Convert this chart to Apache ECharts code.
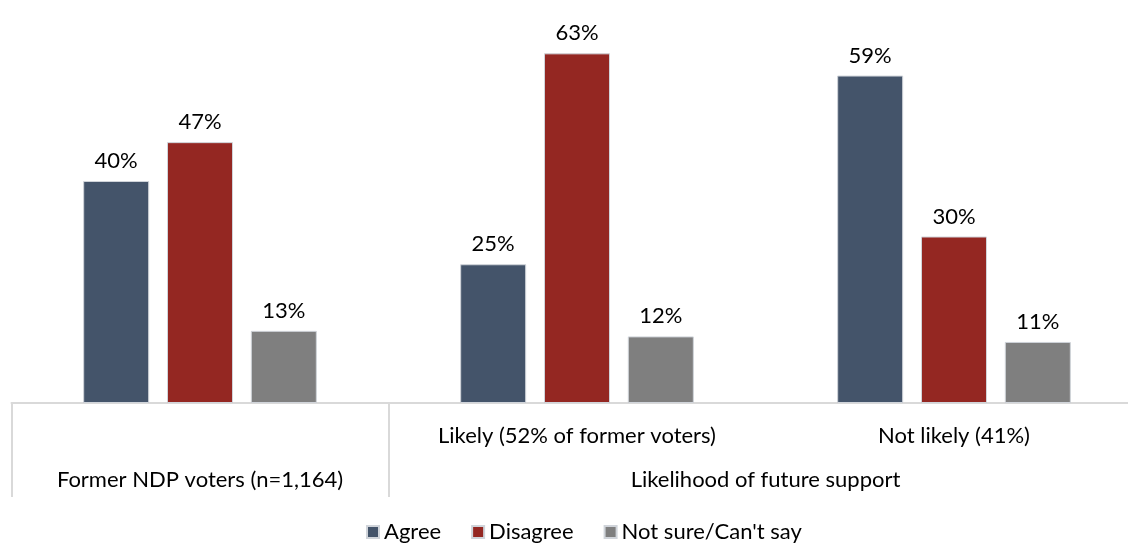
<!DOCTYPE html>
<html>
<head>
<meta charset="utf-8">
<script src="https://cdn.jsdelivr.net/npm/echarts@6/dist/echarts.min.js"></script>
<style>html,body{margin:0;padding:0;background:#fff}#c{width:1128px;height:543px}</style>
</head>
<body>
<div id="c"></div>
<script>
const categories = ["", "Likely (52% of former voters)", "Not likely (41%)"];
const groupLabels = ["", "Former NDP voters (n=1,164)", "", "", "Likelihood of future support", "", ""];
const seriesNames = ["Agree", "Disagree", "Not sure/Can't say"];
const agree = [40, 25, 59];
const disagree = [47, 63, 30];
const notSure = [13, 12, 11];
const colors = ["#44546A", "#942722", "#7F7F7F"];

const FONT = "Lato";
const FS = 22;
const TXT = "#000";
const chart = echarts.init(document.getElementById('c'), null, {renderer: 'canvas'});
const mk = (name, data, color) => ({
  name, type: 'bar', data, barWidth: 66, barGap: '27%',
  itemStyle: {color, borderColor: '#d0d4da', borderWidth: 1},
  label: {show: true, position: 'top', distance: 9, formatter: '{c}%', color: TXT, fontFamily: FONT, fontSize: FS}
});
chart.setOption({
  animation: false,
  grid: {left: 11.5, width: 1131, top: 14.5, bottom: 140, containLabel: false, outerBoundsMode: 'none'},
  legend: {
    bottom: -5, left: 361, itemWidth: 12, itemHeight: 12, itemGap: 30, icon: 'rect',
    textStyle: {fontFamily: FONT, fontSize: FS, color: TXT},
    data: seriesNames
  },
  xAxis: [
    {type: 'category', data: categories, axisTick: {show: false},
     axisLine: {lineStyle: {color: '#d9d9d9', width: 2}},
     axisLabel: {interval: 0, margin: 22, color: TXT, fontFamily: FONT, fontSize: FS}},
    {type: 'category', data: groupLabels, boundaryGap: false, position: 'bottom',
     axisLine: {show: false},
     axisTick: {show: true, length: 94, interval: (i) => i === 0 || i === 2 || i === 6, lineStyle: {color: '#d9d9d9', width: 2}},
     axisLabel: {interval: 0, margin: 66, color: TXT, fontFamily: FONT, fontSize: FS}}
  ],
  yAxis: {type: 'value', min: 0, max: 70, show: false},
  series: [mk(seriesNames[0], agree, colors[0]), mk(seriesNames[1], disagree, colors[1]), mk(seriesNames[2], notSure, colors[2])]
});
</script>
</body>
</html>
